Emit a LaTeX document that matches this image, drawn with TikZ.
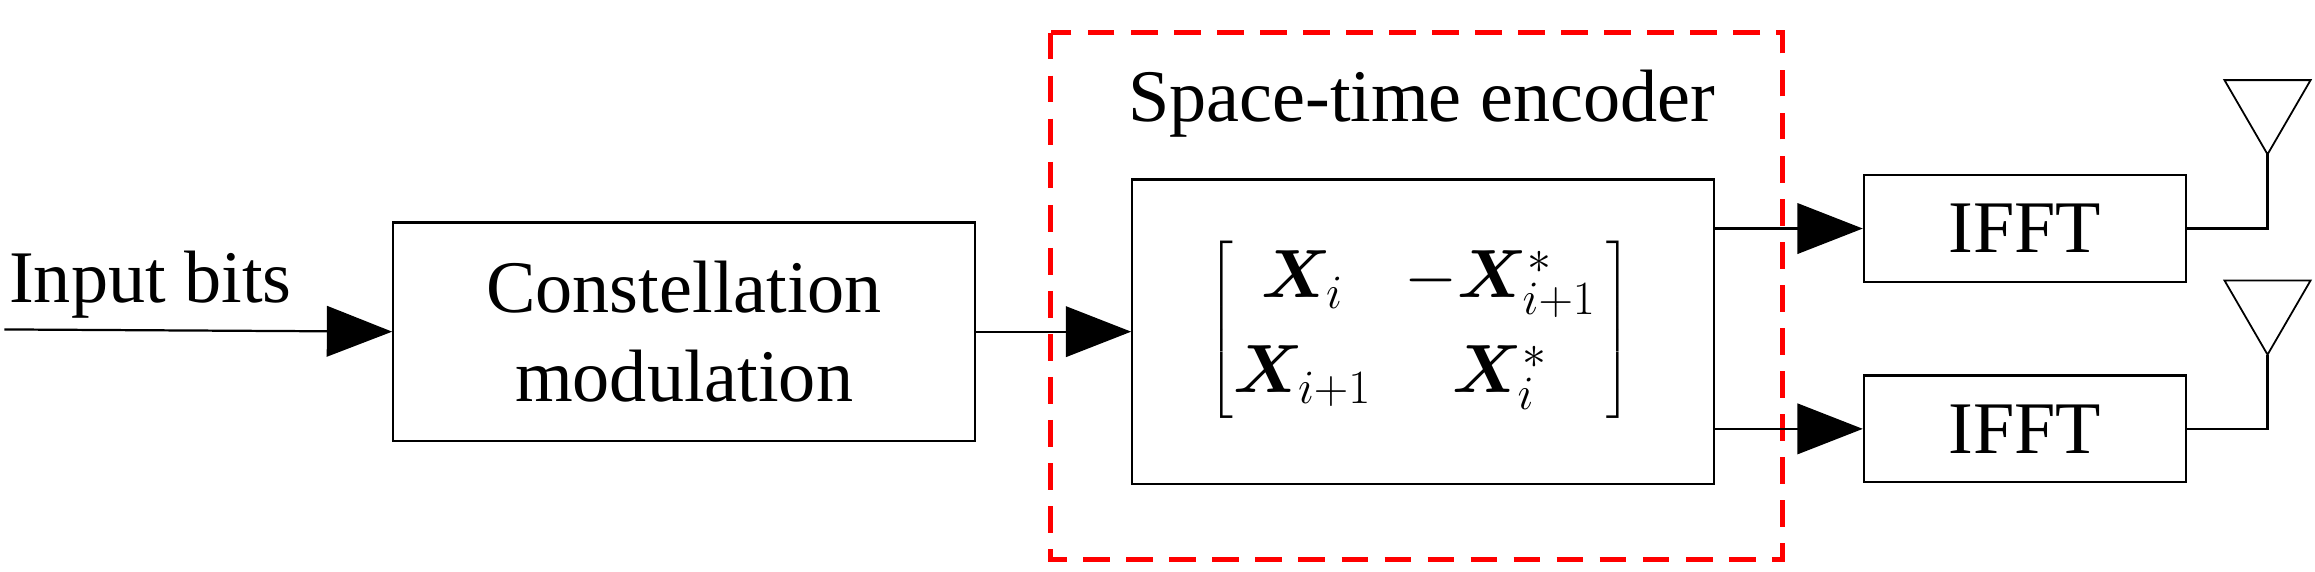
\RequirePackage{fix-cm}
\documentclass[tikz,border=0pt]{standalone}
\usepackage{amsmath,bm}
\usepackage{fontspec}
\setmainfont{Liberation Serif}
\usetikzlibrary{arrows.meta}
\begin{document}
\begin{tikzpicture}[x=1pt,y=-1pt,
  blk/.style={draw,line width=1.5pt,inner sep=0pt},
  arr/.style={line width=1.5pt,-{Triangle[length=44pt,width=34pt]}},
  wire/.style={line width=1.5pt},
  lbl/.style={font=\fontsize{50}{60}\selectfont,align=center}]
\useasboundingbox (0,0) rectangle (1560,385);
\node[blk,minimum width=392pt,minimum height=147pt,lbl] (cm) at (461,223.5) {Constellation\\modulation};
\node[blk,minimum width=392pt,minimum height=205pt] (mx) at (959,223.5) {};
\node[blk,minimum width=217pt,minimum height=72pt,lbl] (f1) at (1364.5,154) {IFFT};
\node[blk,minimum width=217pt,minimum height=72pt,lbl] (f2) at (1364.5,289) {IFFT};
\node[font=\fontsize{46}{54}\selectfont] (m) at (957,222) {$\left[\begin{matrix}\bm{X}_i & \;-\bm{X}^*_{i+1}\\[10pt] \bm{X}_{i+1} & \;\bm{X}^*_i\end{matrix}\,\right]$};
\draw[red,line width=3pt,dash pattern=on 18pt off 11pt] (708,22) rectangle (1201,377);
\node[lbl,anchor=base] (ste) at (958,82) {Space-time encoder};
\node[lbl,anchor=base west,inner sep=0pt] (ib) at (6,204) {Input bits};
\coordinate (in) at (3,222);
\draw[arr] (in) -- (cm.west);
\draw[arr] (cm.east) -- (mx.west);
\draw[arr] (mx.east |- f1.west) -- (f1.west);
\draw[arr] (mx.east |- f2.west) -- (f2.west);
\foreach \f/\y in {f1/0,f2/135}{
  \coordinate (a\f) at (1528,104+\y);
  \draw[wire] (\f.east) -| (a\f);
  \draw[line width=1.2pt] (a\f) -- (1499,54+\y) -- (1557,54+\y) -- cycle;
}
\end{tikzpicture}
\end{document}
